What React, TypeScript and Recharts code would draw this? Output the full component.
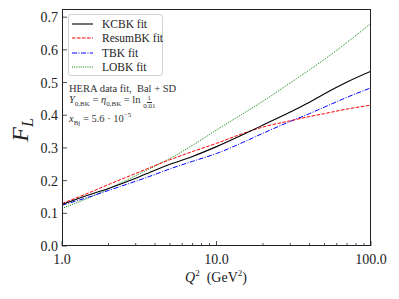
import React from "react";
import { LineChart, Line, XAxis, YAxis } from "recharts";

// Q^2 sample points (GeV^2) and F_L values
const q2 = [1, 1.5, 2, 3, 4, 5, 7, 10, 15, 20, 30, 40, 50, 70, 100];
const kcbk = [0.127, 0.157, 0.176, 0.207, 0.232, 0.25, 0.274, 0.304, 0.342, 0.37, 0.41, 0.44, 0.466, 0.502, 0.535];
const resumbk = [0.13, 0.163, 0.188, 0.222, 0.246, 0.264, 0.289, 0.314, 0.345, 0.364, 0.383, 0.396, 0.405, 0.419, 0.431];
const tbk = [0.125, 0.15, 0.17, 0.198, 0.219, 0.236, 0.259, 0.283, 0.318, 0.345, 0.381, 0.405, 0.425, 0.455, 0.484];
const lobk = [0.115, 0.148, 0.175, 0.215, 0.245, 0.268, 0.308, 0.355, 0.406, 0.443, 0.499, 0.539, 0.571, 0.623, 0.681];

const xMajor = [1, 10, 100];
const xTicks = [1, 2, 3, 4, 5, 6, 7, 8, 9, 10, 20, 30, 40, 50, 60, 70, 80, 90, 100];
const yTicks = [0, 0.1, 0.2, 0.3, 0.4, 0.5, 0.6, 0.7];

const data = q2.map((q, i) => ({ q, kcbk: kcbk[i], resumbk: resumbk[i], tbk: tbk[i], lobk: lobk[i] }));

const FONT = "'Liberation Serif', 'DejaVu Serif', serif";
const AXIS = "#222";

const XTick = (props: any) => {
  const { x, y, payload } = props;
  const major = xMajor.includes(payload.value);
  return (
    <g>
      <line x1={x} x2={x} y1={y} y2={y - (major ? 5 : 3)} stroke={AXIS} strokeWidth={0.8} />
      {major && (
        <text x={x} y={y + 18} textAnchor="middle" fontFamily={FONT} fontSize={14} fill="#222">
          {payload.value.toFixed(1)}
        </text>
      )}
    </g>
  );
};

const YTick = (props: any) => {
  const { x, y, payload } = props;
  return (
    <g>
      <line x1={x} x2={x + 5} y1={y} y2={y} stroke={AXIS} strokeWidth={0.8} />
      <text x={x - 4} y={y + 5} textAnchor="end" fontFamily={FONT} fontSize={14} fill="#222">
        {payload.value.toFixed(1)}
      </text>
    </g>
  );
};

const legendItems = [
  { label: "KCBK fit", color: "#000000", dash: undefined },
  { label: "ResumBK fit", color: "#ff0000", dash: "3.5 1.5" },
  { label: "TBK fit", color: "#0000ff", dash: "5 1.5 1 1.5" },
  { label: "LOBK fit", color: "#008000", dash: "1 1.2" },
];

export default function App() {
  return (
    <div style={{ position: "absolute", left: 0, top: 0, width: 399, height: 299, background: "#fff" }}>
      <LineChart width={399} height={299} data={data} margin={{ top: 9, right: 28, bottom: 0, left: 0 }}>
        <XAxis
          dataKey="q"
          type="number"
          scale="log"
          domain={[1, 100]}
          ticks={xTicks}
          interval={0}
          allowDataOverflow
          axisLine={false}
          tickLine={false}
          tickSize={0}
          tickMargin={0}
          height={53}
          tick={<XTick />}
        />
        <YAxis
          type="number"
          domain={[0, 0.725]}
          ticks={yTicks}
          interval={0}
          allowDataOverflow
          axisLine={false}
          tickLine={false}
          tickSize={0}
          tickMargin={0}
          width={62}
          tick={<YTick />}
        />
        <Line type="monotone" dataKey="lobk" stroke="#008000" strokeWidth={1} strokeDasharray="1 1.2" dot={false} isAnimationActive={false} />
        <Line type="monotone" dataKey="tbk" stroke="#0000ff" strokeWidth={1} strokeDasharray="5 1.5 1 1.5" dot={false} isAnimationActive={false} />
        <Line type="monotone" dataKey="resumbk" stroke="#ff0000" strokeWidth={1} strokeDasharray="3.5 1.5" dot={false} isAnimationActive={false} />
        <Line type="monotone" dataKey="kcbk" stroke="#000000" strokeWidth={1.1} dot={false} isAnimationActive={false} />
      </LineChart>

      {/* plot frame */}
      <div style={{ position: "absolute", left: 62, top: 9, width: 309, height: 237, border: `1px solid ${AXIS}`, boxSizing: "border-box", pointerEvents: "none" }} />

      {/* legend */}
      <div
        style={{
          position: "absolute", left: 68, top: 14, width: 95, height: 62, boxSizing: "border-box",
          border: "1px solid #d0d0d0", borderRadius: 3, background: "rgba(255,255,255,0.85)",
          fontFamily: FONT, fontSize: 11.5, color: "#222",
        }}
      >
        {legendItems.map((it, i) => (
          <div key={it.label} style={{ position: "absolute", left: 3, top: 2 + i * 14.3, height: 14, display: "flex", alignItems: "center" }}>
            <svg width={22} height={14}>
              <line x1={0} x2={21} y1={7} y2={7} stroke={it.color} strokeWidth={1.1} strokeDasharray={it.dash} />
            </svg>
            <span style={{ marginLeft: 8, whiteSpace: "nowrap" }}>{it.label}</span>
          </div>
        ))}
      </div>

      {/* annotation */}
      <div style={{ position: "absolute", left: 69, top: 82, fontFamily: FONT, fontSize: 10.5, color: "#333", lineHeight: "13px", whiteSpace: "nowrap" }}>
        <div>HERA data fit,&nbsp; Bal + SD</div>
        <div style={{ display: "flex", alignItems: "center", height: 14 }}>
          <span><i>Y</i><sub style={{ fontSize: 7 }}>0,BK</sub> = <i>η</i><sub style={{ fontSize: 7 }}>0,BK</sub> = ln&nbsp;</span>
          <span style={{ display: "inline-flex", flexDirection: "column", alignItems: "center", fontSize: 7, lineHeight: "7px" }}>
            <span style={{ borderBottom: "0.6px solid #333", padding: "0 1px" }}>1</span>
            <span>0.01</span>
          </span>
        </div>
        <div><i>x</i><sub style={{ fontSize: 7 }}>Bj</sub> = 5.6 · 10<sup style={{ fontSize: 7 }}>−5</sup></div>
      </div>

      {/* y label */}
      <div style={{ position: "absolute", left: 22, top: 130, transform: "translate(-50%, -50%) rotate(-90deg)", fontFamily: FONT, fontSize: 24, color: "#222", whiteSpace: "nowrap" }}>
        <i>F</i><sub style={{ fontSize: 16, fontStyle: "italic" }}>L</sub>
      </div>

      {/* x label */}
      <div style={{ position: "absolute", left: 216, top: 277, transform: "translate(-50%, -50%)", fontFamily: FONT, fontSize: 14, color: "#222", whiteSpace: "nowrap" }}>
        <i>Q</i><sup style={{ fontSize: 9 }}>2</sup>&nbsp; (GeV<sup style={{ fontSize: 9 }}>2</sup>)
      </div>
    </div>
  );
}
